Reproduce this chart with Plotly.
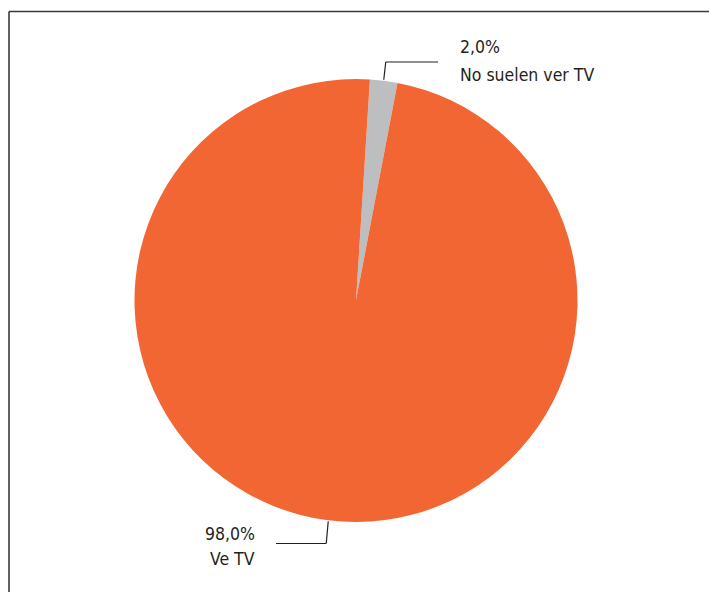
import math
import plotly.graph_objects as go

# Survey result: share of people who watch TV
labels = ["No suelen ver TV", "Ve TV"]
values = [2.0, 98.0]
value_text = ["2,0%", "98,0%"]
colors = ["#BDBEC0", "#F26633"]

W, H = 709, 592
cx, cy, r = 356.0, 300.5, 221.5   # pie centre and radius in pixels
rotation = 3.6

def px(x):
    return x / W

def py(y):
    return 1 - y / H

fig = go.Figure(go.Pie(
    labels=labels,
    values=values,
    marker=dict(colors=colors, line=dict(width=0)),
    sort=False,
    direction="clockwise",
    rotation=rotation,
    textinfo="none",
    hoverinfo="label+percent",
    showlegend=False,
    domain=dict(x=[px(cx - r), px(cx + r)], y=[py(cy + r), py(cy - r)]),
))

# angle (clockwise from 12 o'clock) of the middle of each slice
total = sum(values)
mids = []
acc = rotation
for v in values:
    mids.append(acc + 360 * v / total / 2)
    acc += 360 * v / total

def edge_point(angle_deg):
    a = math.radians(angle_deg)
    return cx + r * math.sin(a), cy - r * math.cos(a)

shapes = []
line_style = dict(color="#231F20", width=1.2)

# leader for the small slice: up, then right
x0, y0 = edge_point(mids[0])
shapes.append(dict(type="line", xref="paper", yref="paper",
                   x0=px(x0), y0=py(y0 - 1), x1=px(x0 + 2), y1=py(62), line=line_style))
shapes.append(dict(type="line", xref="paper", yref="paper",
                   x0=px(x0 + 2), y0=py(62), x1=px(438), y1=py(62), line=line_style))

# leader for the large slice: down, then left
x1, y1 = edge_point(mids[1])
shapes.append(dict(type="line", xref="paper", yref="paper",
                   x0=px(x1), y0=py(y1 + 1), x1=px(x1 - 2), y1=py(543.5), line=line_style))
shapes.append(dict(type="line", xref="paper", yref="paper",
                   x0=px(x1 - 2), y0=py(543.5), x1=px(276), y1=py(543.5), line=line_style))

# frame: left and top rules
frame = dict(color="#3A3A3A", width=1.6)
shapes.append(dict(type="line", xref="paper", yref="paper",
                   x0=px(9), y0=py(11.5), x1=px(9), y1=0, line=frame))
shapes.append(dict(type="line", xref="paper", yref="paper",
                   x0=px(9), y0=py(11.5), x1=1, y1=py(11.5), line=frame))

font = dict(family="DejaVu Sans Condensed, Liberation Sans Narrow, sans-serif", size=17.5, color="#231F20")
annotations = [
    dict(x=px(457.5), y=py(47), text=value_text[0], xanchor="left", yanchor="middle"),
    dict(x=px(457.5), y=py(75), text=labels[0], xanchor="left", yanchor="middle"),
    dict(x=px(257), y=py(534), text=value_text[1], xanchor="right", yanchor="middle"),
    dict(x=px(257), y=py(559), text=labels[1], xanchor="right", yanchor="middle"),
]
for a in annotations:
    a.update(xref="paper", yref="paper", showarrow=False, font=font)

fig.update_layout(
    width=W, height=H,
    margin=dict(l=0, r=0, t=0, b=0),
    paper_bgcolor="white",
    plot_bgcolor="white",
    shapes=shapes,
    annotations=annotations,
)

fig.write_html("out.html")
